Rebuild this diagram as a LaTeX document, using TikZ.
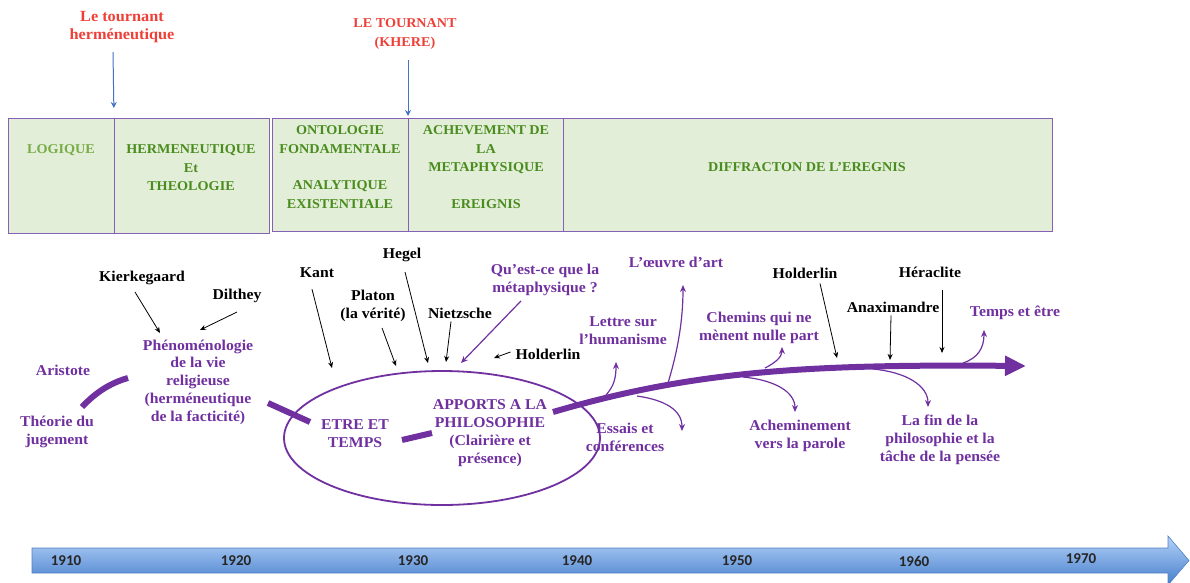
\documentclass[tikz,border=0pt]{standalone}
\usepackage{fontspec}
\setmainfont{Liberation Serif}[FakeStretch=1.05]
\newfontfamily\yearfont{Carlito}
\usetikzlibrary{arrows.meta,shapes.geometric}
\definecolor{hpurple}{RGB}{112,48,160}
\definecolor{boxline}{RGB}{134,96,180}
\definecolor{boxfill}{RGB}{226,238,216}
\definecolor{boxgreen}{RGB}{74,140,30}
\definecolor{lightgreen}{RGB}{120,172,70}
\definecolor{tourred}{RGB}{238,64,56}
\definecolor{tourblue}{RGB}{68,114,196}
\definecolor{bartop}{RGB}{180,210,248}
\definecolor{barbottom}{RGB}{70,126,204}
\definecolor{baredge}{RGB}{80,128,196}

\begin{document}
\begin{tikzpicture}[x=1pt,y=-1pt,
		box/.style={draw=boxline, line width=1.3pt, fill=boxfill, anchor=north west, inner sep=0pt},
		boxtext/.style={align=center, text=boxgreen, font=\bfseries\fontsize{13.5}{18.5}\selectfont},
		redtext/.style={align=center, text=tourred, font=\bfseries\fontsize{13.5}{18.5}\selectfont},
		lbl/.style={align=center, inner sep=1pt, font=\bfseries\fontsize{15}{17.8}\selectfont},
		plbl/.style={lbl, text=hpurple},
		blackarrow/.style={-{Stealth[length=6pt,width=5pt]}, line width=0.8pt},
		purplearrow/.style={-{Stealth[length=7pt,width=6pt]}, line width=1.2pt, draw=hpurple},
		bluearrow/.style={-{Stealth[length=6pt,width=6pt]}, line width=1pt, draw=tourblue},
		thickline/.style={line width=6pt, draw=hpurple},
		year/.style={font=\yearfont\bfseries\fontsize{15}{15}\selectfont, text=black!85}]
		\useasboundingbox (0,0) rectangle (1190,582);

		% periods
		\node[box, minimum width=106pt, minimum height=115pt] (logique) at (8,118) {};
		\node[box, minimum width=155pt, minimum height=115pt] (hermen) at (114,118) {};
		\node[box, minimum width=136pt, minimum height=113pt] (ontol) at (272,118) {};
		\node[box, minimum width=155pt, minimum height=113pt] (achev) at (408,118) {};
		\node[box, minimum width=489pt, minimum height=113pt] (diffr) at (563,118) {};
		\node[boxtext, text=lightgreen] (tlogique) at (61,150) {LOGIQUE};
		\node[boxtext] (thermen) at (191,168) {HERMENEUTIQUE\\Et\\THEOLOGIE};
		\node[boxtext] (tontol) at (340,167) {ONTOLOGIE\\FONDAMENTALE\\[18pt]ANALYTIQUE\\EXISTENTIALE};
		\node[boxtext] (tachev) at (486,167) {ACHEVEMENT DE\\LA\\METAPHYSIQUE\\[18pt]EREIGNIS};
		\node[boxtext] (tdiffr) at (807,167) {DIFFRACTON DE L’EREGNIS};

		% turns
		\node[redtext, font=\bfseries\fontsize{15.5}{18.5}\selectfont] (tourA) at (122,27) {Le tournant\\herméneutique};
		\node[redtext] (tourB) at (405,34) {LE TOURNANT\\(KHERE)};
		\coordinate (kA) at (113,52);
		\coordinate (kB) at (408,60);
		\draw[bluearrow, shorten >=10pt] (kA) -- (hermen.north west);
		\draw[bluearrow, shorten >=2pt] (kB) -- (achev.north west);

		% early work
		\node[lbl] (kierk) at (142,278) {Kierkegaard};
		\node[lbl] (dilthey) at (237,296) {Dilthey};
		\node[plbl] (pheno) at (198,382) {Phénoménologie\\de la vie\\religieuse\\(herméneutique\\de la facticité)};
		\node[plbl] (aristote) at (63,370) {Aristote};
		\node[plbl] (theorie) at (57,432) {Théorie du\\jugement};
		\coordinate (tk) at (160,333);
		\coordinate (td) at (200,330);
		\draw[blackarrow] ([xshift=-7pt,yshift=-6pt]kierk.south) -- (tk);
		\draw[blackarrow] ([yshift=-8pt]dilthey.south) -- (td);
		\draw[thickline] (82,407) .. controls (95,393) and (110,383) .. (128,378);
		\draw[thickline] (268,403) -- (310,422);

		% Etre et temps
		\node[draw=hpurple, line width=1.8pt, ellipse, minimum width=316pt, minimum height=134pt] (ovale) at (442,438) {};
		\node[plbl] (etre) at (355,434) {ETRE ET\\TEMPS};
		\node[plbl] (apports) at (490,433) {APPORTS A LA\\PHILOSOPHIE\\(Clairière et\\présence)};
		\draw[thickline] (402,440) -- (432,433);
		\node[lbl] (kant) at (317,273) {Kant};
		\node[lbl] (platon) at (373,306) {Platon\\(la vérité)};
		\node[lbl] (hegel) at (402,255) {Hegel};
		\node[lbl] (nietz) at (460,313) {Nietzsche};
		\node[plbl] (quest) at (545,280) {Qu’est-ce que la\\métaphysique ?};
		\node[lbl] (holdA) at (548,354) {Holderlin};
		\coordinate (tkant) at (332,368);
		\coordinate (tpl) at (396,366);
		\coordinate (thg) at (428,363);
		\coordinate (tnz) at (446,362);
		\coordinate (tqu) at (461,363);
		\coordinate (tha) at (494,358);
		\draw[blackarrow] ([xshift=-5pt,yshift=-10pt]kant.south) -- (tkant);
		\draw[blackarrow] ([xshift=9pt,yshift=-5pt]platon.south) -- (tpl);
		\draw[blackarrow] ([xshift=3pt,yshift=-9pt]hegel.south) -- (thg);
		\draw[blackarrow] ([xshift=-9pt,yshift=-2pt]nietz.south) -- (tnz);
		\draw[purplearrow] ([xshift=-24pt,yshift=-4pt]quest.south) -- (tqu);
		\draw[blackarrow] ([xshift=-4pt,yshift=2pt]holdA.west) -- (tha);

		% later work
		\coordinate (mstart) at (553,412);
		\coordinate (mend) at (1026,366);
		\draw[thickline, -{Triangle[length=21pt,width=19pt]}] (mstart) .. controls (690,372) and (800,364) .. (mend);
		\node[plbl] (lettre) at (623,331) {Lettre sur\\l’humanisme};
		\node[plbl] (essais) at (625,437) {Essais et\\conférences};
		\node[plbl] (oeuvre) at (676,262) {L’œuvre d’art};
		\node[plbl] (chemins) at (759,328) {Chemins qui ne\\mènent nulle part};
		\node[plbl] (achem) at (800,436) {Acheminement\\vers la parole};
		\node[lbl] (holdB) at (805,273) {Holderlin};
		\node[lbl] (anaxi) at (893,307) {Anaximandre};
		\node[lbl] (hera) at (930,272) {Héraclite};
		\node[plbl] (temps) at (1015,313) {Temps et être};
		\node[plbl] (fin) at (940,440) {La fin de la\\philosophie et la\\tâche de la pensée};
		\coordinate (thb) at (837,358);
		\coordinate (tan) at (890,360);
		\coordinate (the) at (942,353);
		\draw[blackarrow] ([xshift=15pt,yshift=-4pt]holdB.south) -- (thb);
		\draw[blackarrow] ([xshift=-2pt,yshift=-2pt]anaxi.south) -- (tan);
		\draw[blackarrow] ([xshift=12pt,yshift=-12pt]hera.south) -- (the);
		\draw[purplearrow] (606,395) .. controls (614,386) and (616,378) .. (616,362);
		\draw[purplearrow] (637,396) .. controls (665,400) and (682,410) .. (682,431);
		\draw[purplearrow] (668,383) .. controls (678,350) and (683,320) .. (683,285);
		\draw[purplearrow] (765,368) .. controls (775,363) and (782,357) .. (782,347);
		\draw[purplearrow] (743,377) .. controls (775,380) and (795,392) .. (795,412);
		\draw[purplearrow] (873,369) .. controls (905,372) and (928,385) .. (928,407);
		\draw[purplearrow] (963,363) .. controls (978,358) and (984,348) .. (984,330);

		% time line
		\shade[top color=bartop, bottom color=barbottom, draw=baredge, line width=0.6pt]
		(32,548) -- (1168,548) -- (1168,536) -- (1189,560.5) -- (1168,585) -- (1168,573) -- (32,573) -- cycle;
		\foreach \yr/\xx/\yy in {1910/66/561,1920/236/561,1930/413/561,1940/577/561,1950/737/561,1960/914/561,1970/1081/559}
		\node[year] (y\yr) at (\xx,\yy) {\yr};

	\end{tikzpicture}
\end{document}
